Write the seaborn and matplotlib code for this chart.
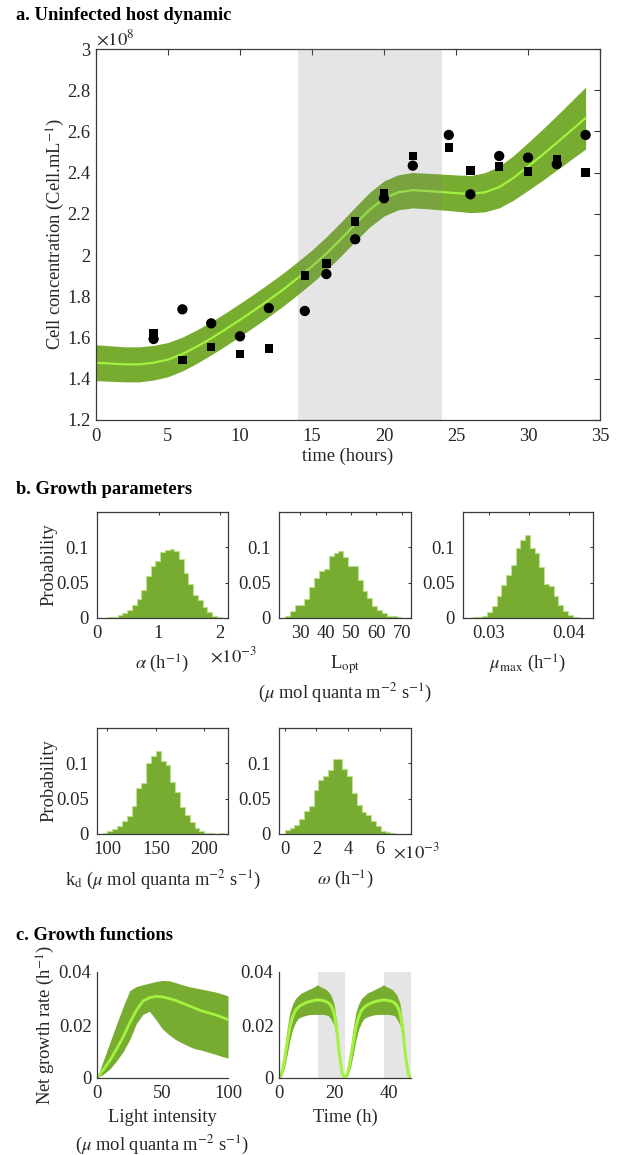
import numpy as np
import pandas as pd
import matplotlib
matplotlib.use("Agg")
import matplotlib.pyplot as plt
import seaborn as sns
from matplotlib.ticker import FuncFormatter, FixedLocator

# ---------------- data ----------------
# panel a: observations (x 1e8 cells/mL)
obs_time = [4, 6, 8, 10, 12, 14.5, 16, 18, 20, 22, 24.5, 26, 28, 30, 32, 34]
obs_circle = [1.593, 1.737, 1.669, 1.606, 1.743, 1.729, 1.908, 2.077, 2.276,
              2.434, 2.583, 2.295, 2.481, 2.473, 2.441, 2.583]
obs_square = [1.621, 1.491, 1.554, 1.520, 1.548, 1.900, 1.958, 2.162, 2.300,
              2.481, 2.523, 2.410, 2.429, 2.405, 2.465, 2.400]
# panel a: model fit
model_time = list(range(0, 35))
model_mean = [1.478, 1.474, 1.470, 1.470, 1.478, 1.493, 1.520, 1.556, 1.596,
              1.640, 1.686, 1.733, 1.782, 1.833, 1.888, 1.945, 2.008, 2.077,
              2.150, 2.220, 2.275, 2.305, 2.315, 2.311, 2.306, 2.301, 2.296,
              2.305, 2.330, 2.375, 2.430, 2.486, 2.545, 2.605, 2.665]
model_half = [0.087, 0.086, 0.085, 0.085, 0.084, 0.083, 0.082, 0.081, 0.080,
              0.080, 0.080, 0.080, 0.080, 0.080, 0.080, 0.080, 0.081, 0.082,
              0.083, 0.084, 0.085, 0.085, 0.086, 0.086, 0.087, 0.088, 0.090,
              0.095, 0.101, 0.108, 0.116, 0.124, 0.132, 0.141, 0.150]
dark_periods_a = [(14, 24)]

# panel b: posterior histograms (probability per bin)
alpha_start, alpha_width = 0.107, 0.0766          # x 1e-3 h^-1
alpha_prob = [0.0005, 0.001, 0.002, 0.004, 0.0075, 0.011, 0.019, 0.027, 0.040,
              0.060, 0.073, 0.081, 0.093, 0.096, 0.097, 0.095, 0.084, 0.063,
              0.048, 0.032, 0.025, 0.016, 0.0085, 0.003, 0.001]
lopt_start, lopt_width = 24.06, 1.908
lopt_prob = [0.0024, 0.010, 0.019, 0.019, 0.027, 0.044, 0.057, 0.066, 0.070,
             0.088, 0.092, 0.095, 0.087, 0.074, 0.074, 0.054, 0.038, 0.028,
             0.017, 0.012, 0.007, 0.003, 0.0024, 0.001]
mu_start, mu_width = 0.0274, 0.000595
mu_prob = [0.0005, 0.0008, 0.0015, 0.0025, 0.0085, 0.0166, 0.031, 0.046, 0.061,
           0.075, 0.0995, 0.111, 0.1175, 0.0995, 0.0915, 0.0725, 0.048, 0.0455,
           0.031, 0.019, 0.0095, 0.004, 0.001, 0.0005]
kd_start, kd_width = 95.0, 5.0
kd_prob = [0.001, 0.0047, 0.0066, 0.011, 0.019, 0.026, 0.040, 0.065, 0.072,
           0.101, 0.111, 0.1175, 0.103, 0.097, 0.073, 0.059, 0.038, 0.027,
           0.017, 0.0085, 0.004, 0.002, 0.001, 0.0003, 0.001]
omega_start, omega_width = 0.0, 0.303              # x 1e-3 h^-1
omega_prob = [0.0056, 0.008, 0.013, 0.021, 0.033, 0.040, 0.0624, 0.0765, 0.082,
              0.0906, 0.1066, 0.1056, 0.0915, 0.0817, 0.0577, 0.0408, 0.0315,
              0.027, 0.018, 0.0108, 0.0038, 0.0028, 0.0014, 0.0005]

# panel c: growth vs light
light = [0, 5, 10, 15, 20, 25, 30, 35, 40, 45, 50, 55, 60, 65, 70, 75, 80, 85, 90, 95, 100]
light_mean = [0, 0.0033, 0.0067, 0.011, 0.0155, 0.0208, 0.0255, 0.029, 0.0303,
              0.0308, 0.0306, 0.030, 0.0293, 0.0283, 0.0273, 0.0263, 0.0253,
              0.0246, 0.0239, 0.023, 0.022]
light_upper = [0, 0.0068, 0.0136, 0.0204, 0.027, 0.033, 0.0345, 0.0352, 0.0358,
               0.0364, 0.0368, 0.0367, 0.036, 0.0352, 0.0345, 0.034, 0.0335,
               0.033, 0.0325, 0.0318, 0.031]
light_lower = [0, 0.0015, 0.0035, 0.0065, 0.010, 0.0145, 0.0205, 0.024, 0.0252,
               0.022, 0.0185, 0.0163, 0.0145, 0.0132, 0.012, 0.011, 0.0105,
               0.0097, 0.009, 0.0082, 0.0075]
# panel c: growth vs time over one day (repeated on each day)
day_time = list(range(0, 25))
day_mean = [0, 0.0018, 0.007, 0.0135, 0.0195, 0.0232, 0.0255, 0.0267, 0.0275,
            0.028, 0.0285, 0.0288, 0.0291, 0.0293, 0.0295, 0.0294, 0.0292,
            0.0289, 0.0284, 0.0272, 0.0245, 0.0185, 0.0085, 0.0015, 0]
day_upper = [0, 0.003, 0.011, 0.019, 0.025, 0.028, 0.030, 0.031, 0.032, 0.0325,
             0.033, 0.0335, 0.034, 0.0345, 0.0352, 0.0345, 0.034, 0.0335,
             0.0325, 0.031, 0.028, 0.021, 0.010, 0.002, 0]
day_lower = [0, 0.0008, 0.004, 0.009, 0.0145, 0.0185, 0.021, 0.0225, 0.023,
             0.0234, 0.0237, 0.0239, 0.024, 0.024, 0.024, 0.024, 0.024, 0.0238,
             0.0235, 0.022, 0.020, 0.015, 0.0065, 0.001, 0]
day_starts = [0, 24]
dark_periods_c = [(14, 24), (38, 48)]

# ---------------- style ----------------
sns.set_theme(style="white")
plt.rcParams["font.family"] = ["Liberation Serif", "DejaVu Serif"]
plt.rcParams["mathtext.fontset"] = "stix"
TXT = "#262626"
GREEN = "#77AC30"
LINE = "#a2f23f"
FS = 13.3
plt.rcParams.update({
    "axes.edgecolor": "#3a3a3a", "axes.linewidth": 0.9,
    "xtick.color": TXT, "ytick.color": TXT,
    "xtick.labelcolor": TXT, "ytick.labelcolor": TXT,
    "axes.labelcolor": TXT, "text.color": TXT,
    "xtick.labelsize": FS, "ytick.labelsize": FS, "axes.labelsize": FS,
})

fig = plt.figure(figsize=(6.18, 11.55), dpi=100)


def pos(l, t, r, b):
    return [l / 618, 1 - b / 1155, (r - l) / 618, (b - t) / 1155]


gfmt = FuncFormatter(lambda v, p: f"{v:g}")


def boxed(ax, length=3.5, xpad=5, ypad=4):
    ax.tick_params(direction="in", top=True, right=True, length=length,
                   width=0.8, colors="#3a3a3a", labelcolor=TXT)
    ax.tick_params(axis="x", pad=xpad)
    ax.tick_params(axis="y", pad=ypad)
    for s in ax.spines.values():
        s.set_visible(True)


# ---------------- panel a ----------------
fig.text(16 / 618, 1 - 15 / 1155, "a. Uninfected host dynamic", fontsize=13.3,
         fontweight="bold", ha="left", va="center", color="black")
ax = fig.add_axes(pos(96, 49, 600, 420))
mt = np.array(model_time)
mm = np.array(model_mean)
mh = np.array(model_half)
ax.fill_between(mt, mm - mh, mm + mh, color=GREEN, lw=0, zorder=1)
sns.lineplot(x=model_time, y=model_mean, color=LINE, lw=1.6, ax=ax, zorder=2)
for a, b in dark_periods_a:
    ax.axvspan(a, b, color="#808080", alpha=0.2, lw=0, zorder=3)
sns.scatterplot(x=obs_time, y=obs_circle, marker="o", s=55, color="black",
                edgecolor="none", ax=ax, zorder=4)
sns.scatterplot(x=obs_time, y=obs_square, marker="s", s=38, color="black",
                edgecolor="none", ax=ax, zorder=4)
ax.set_xlim(0, 35)
ax.set_ylim(1.2, 3.0)
ax.set_xticks(range(0, 36, 5))
ax.set_yticks(np.arange(1.2, 3.01, 0.2))
ax.xaxis.set_major_formatter(gfmt)
ax.yaxis.set_major_formatter(FuncFormatter(lambda v, p: f"{round(v, 2):g}"))
boxed(ax, 4, xpad=6, ypad=4)
ax.set_xlabel("time (hours)", labelpad=2)
ax.set_ylabel("Cell concentration (Cell.mL$^{-1}$)", labelpad=0)
ax.text(0.0, 1.0, r"$\times10^{8}$", transform=ax.transAxes, ha="left",
        va="bottom", fontsize=FS)

# ---------------- panel b ----------------
fig.text(16 / 618, 1 - 489 / 1155, "b. Growth parameters", fontsize=13.3,
         fontweight="bold", ha="left", va="center", color="black")


def hist(box, start, width, prob, xlim, ticks, xlabel, ylabel=False,
         labels=None):
    ax = fig.add_axes(pos(*box))
    n = len(prob)
    edges = start + width * np.arange(n + 1)
    df = pd.DataFrame({"center": (edges[:-1] + edges[1:]) / 2,
                       "prob": np.asarray(prob, dtype=float)})
    sns.histplot(data=df, x="center", weights="prob", bins=n,
                 binrange=(edges[0], edges[-1]), element="step", fill=True,
                 stat="count", color=GREEN, edgecolor="#bde08f",
                 linewidth=0.8, alpha=1, ax=ax)
    ax.set_xlim(*xlim)
    ax.set_ylim(0, 0.15)
    ax.xaxis.set_major_locator(FixedLocator(ticks))
    if labels is None:
        ax.xaxis.set_major_formatter(gfmt)
    else:
        ax.xaxis.set_major_formatter(FuncFormatter(
            lambda v, p: labels[p] if p is not None and p < len(labels) else ""))
    ax.set_yticks([0, 0.05, 0.1])
    ax.yaxis.set_major_formatter(gfmt)
    boxed(ax, 2.5, xpad=5, ypad=6)
    ax.set_xlabel(xlabel, labelpad=8, linespacing=1.35)
    ax.set_ylabel("Probability" if ylabel else "", labelpad=-1)
    return ax


a1 = hist((97, 512, 228, 618), alpha_start, alpha_width, alpha_prob,
          (0, 2.13), [0, 1, 2], r"$\alpha$ (h$^{-1}$)", ylabel=True)
a1.text(0.86, -0.36, r"$\times10^{-3}$", transform=a1.transAxes, ha="left",
        va="center", fontsize=FS)
hist((279, 512, 411, 618), lopt_start, lopt_width, lopt_prob, (21.7, 73.6),
     [30, 40, 50, 60, 70],
     "L$_{\\rm opt}$\n($\\mu$ mol quanta m$^{-2}$ s$^{-1}$)")
hist((463, 512, 593, 618), mu_start, mu_width, mu_prob, (0.02678, 0.04302),
     [0.03, 0.035, 0.04], r"$\mu_{\rm max}$ (h$^{-1}$)",
     labels=["0.03", "", "0.04"])
hist((97, 728, 228, 834), kd_start, kd_width, kd_prob, (89.3, 224.4),
     [100, 150, 200], "k$_{\\rm d}$ ($\\mu$ mol quanta m$^{-2}$ s$^{-1}$)",
     ylabel=True)
a5 = hist((279, 728, 411, 834), omega_start, omega_width, omega_prob,
          (-0.36, 7.96), [0, 2, 4, 6], r"$\omega$ (h$^{-1}$)")
a5.text(0.86, -0.17, r"$\times10^{-3}$", transform=a5.transAxes, ha="left",
        va="center", fontsize=FS)

# ---------------- panel c ----------------
fig.text(16 / 618, 1 - 935 / 1155, "c. Growth functions", fontsize=13.3,
         fontweight="bold", ha="left", va="center", color="black")


def open_axes(ax):
    sns.despine(ax=ax)
    ax.tick_params(direction="in", length=3, width=0.8,
                   colors="#3a3a3a", labelcolor=TXT)
    ax.tick_params(axis="x", pad=5)
    ax.tick_params(axis="y", pad=4)
    ax.set_ylim(0, 0.04)
    ax.set_yticks([0, 0.02, 0.04])
    ax.yaxis.set_major_formatter(gfmt)
    ax.xaxis.set_major_formatter(gfmt)


c1 = fig.add_axes(pos(97, 972, 228, 1078))
c1.fill_between(light, light_lower, light_upper, color=GREEN, lw=0)
sns.lineplot(x=light, y=light_mean, color=LINE, lw=2.0, ax=c1)
c1.set_xlim(0, 100)
c1.set_xticks([0, 50, 100])
open_axes(c1)
c1.set_xlabel("Light intensity\n($\\mu$ mol quanta m$^{-2}$ s$^{-1}$)",
              labelpad=5, linespacing=1.5)
c1.set_ylabel("Net growth rate (h$^{-1}$)", labelpad=1)

c2 = fig.add_axes(pos(279, 972, 411, 1078))
for a, b in dark_periods_c:
    c2.axvspan(a, b, color="#808080", alpha=0.2, lw=0, zorder=0)
for d0 in day_starts:
    tt = [t + d0 for t in day_time]
    c2.fill_between(tt, day_lower, day_upper, color=GREEN, lw=0, zorder=1)
    sns.lineplot(x=tt, y=day_mean, color=LINE, lw=2.2, ax=c2, zorder=2)
c2.set_xlim(0, 48)
c2.set_xticks([0, 20, 40])
open_axes(c2)
c2.set_xlabel("Time (h)", labelpad=5)
c2.set_ylabel("")

fig.savefig("out.png", dpi=100)
